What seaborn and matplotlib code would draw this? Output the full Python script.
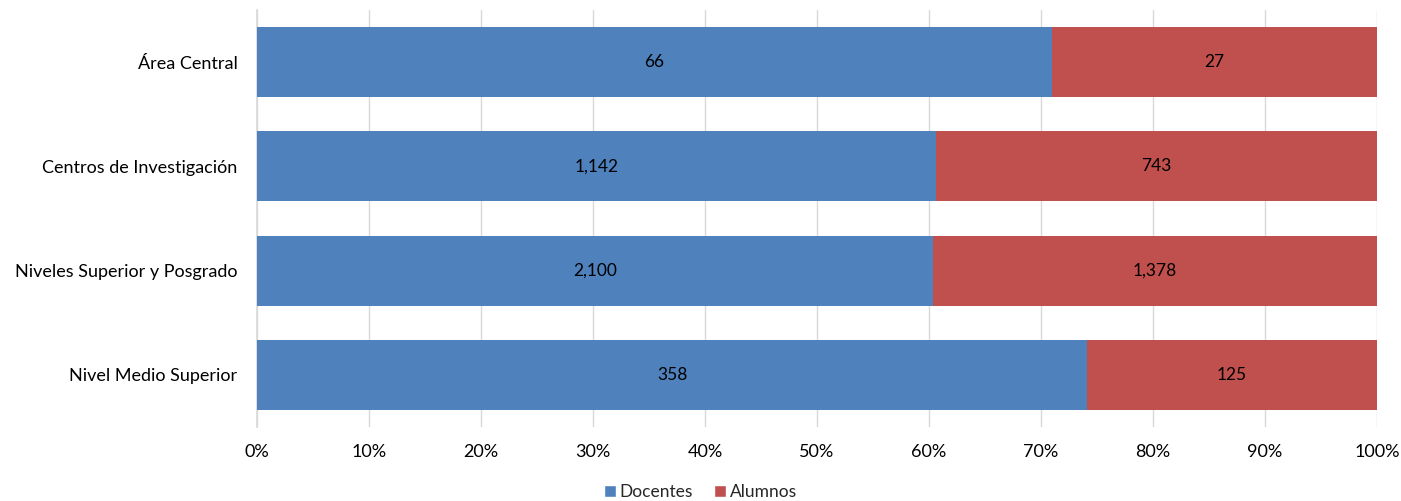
import numpy as np
import pandas as pd
import matplotlib
matplotlib.use("Agg")
import matplotlib.pyplot as plt
import seaborn as sns
from matplotlib.patches import Patch
from matplotlib.ticker import PercentFormatter

categorias = ["Área Central", "Centros de Investigación",
              "Niveles Superior y Posgrado", "Nivel Medio Superior"]
docentes = [66, 1142, 2100, 358]
alumnos = [27, 743, 1378, 125]

azul = "#4F81BD"
rojo = "#C0504D"

df = pd.DataFrame({"categoria": categorias, "Docentes": docentes, "Alumnos": alumnos})
df["total"] = df["Docentes"] + df["Alumnos"]
df["pct_doc"] = df["Docentes"] / df["total"] * 100
df["pct_tot"] = 100.0

sns.set_theme(style="white")
plt.rcParams["font.family"] = ["Lato", "DejaVu Sans"]

fig = plt.figure(figsize=(14.01, 5.01), dpi=100)
ax = fig.add_axes([0.1834, 0.1477, 0.7995, 0.8323])

# red bar covers full width, blue drawn on top up to its share
sns.barplot(data=df, y="categoria", x="pct_tot", color=rojo, orient="h",
            width=0.67, ax=ax, saturation=1, zorder=2, linewidth=0)
sns.barplot(data=df, y="categoria", x="pct_doc", color=azul, orient="h",
            width=0.67, ax=ax, saturation=1, zorder=3, linewidth=0)

for i, row in df.iterrows():
    ax.text(row["pct_doc"] / 2, i, f"{row['Docentes']:,}", ha="center", va="center",
            fontsize=12.5, color="black", zorder=4)
    ax.text((row["pct_doc"] + 100) / 2, i, f"{row['Alumnos']:,}", ha="center", va="center",
            fontsize=12.5, color="black", zorder=4)

ax.set_xlim(0, 100)
ax.set_ylim(3.5, -0.5)
ax.set_xticks(np.arange(0, 101, 10))
ax.xaxis.set_major_formatter(PercentFormatter(decimals=0))
ax.grid(axis="x", color="#D9D9D9", linewidth=1, zorder=0)
ax.set_axisbelow(True)
ax.set_xlabel("")
ax.set_ylabel("")
for s in ["top", "right", "bottom"]:
    ax.spines[s].set_visible(False)
ax.spines["left"].set_color("#D9D9D9")
ax.tick_params(axis="both", labelsize=13, colors="black", length=0)
ax.tick_params(axis="x", pad=12)
ax.tick_params(axis="y", pad=14)

handles = [Patch(facecolor=azul, label="Docentes"), Patch(facecolor=rojo, label="Alumnos")]
fig.legend(handles=handles, loc="lower center", bbox_to_anchor=(0.5, -0.03), ncol=2,
           frameon=False, fontsize=12.5, handlelength=0.7, handleheight=0.7,
           handletextpad=0.2, columnspacing=1.2)

fig.savefig("out.png", dpi=100)
